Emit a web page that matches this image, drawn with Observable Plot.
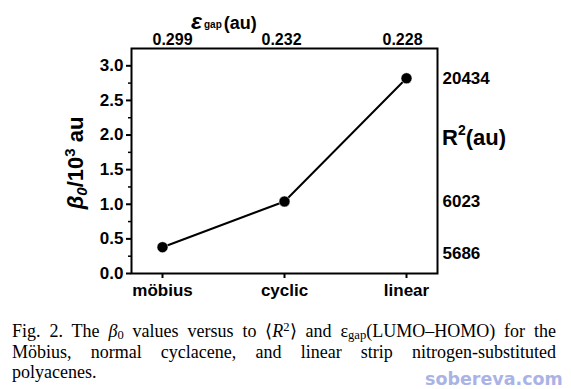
<!DOCTYPE html>
<html><head><meta charset="utf-8">
<script src="https://cdn.jsdelivr.net/npm/d3@7"></script>
<script src="https://cdn.jsdelivr.net/npm/@observablehq/plot@0.6"></script>
<style>
body{margin:0;background:#fff;}
#wrap{position:relative;width:571px;height:389px;overflow:hidden;background:#fff;}
#chart{position:absolute;left:0;top:0;}
#caption{position:absolute;left:12px;top:321px;width:544px;font-family:"Liberation Serif","Times New Roman",serif;font-size:18px;line-height:20.5px;color:#000;}
#caption div{white-space:nowrap;}
#caption .jl{text-align:justify;text-align-last:justify;white-space:normal;}
#caption sub,#caption sup{line-height:0;font-size:0.7em;}
#caption sub{vertical-align:-0.15em;}
#caption sup{vertical-align:0.45em;}
#wm{position:absolute;left:425px;top:369px;font-family:"DejaVu Sans",sans-serif;font-weight:bold;font-size:17.5px;color:#aab3e6;}
</style></head>
<body><div id="wrap"><div id="chart"></div>
<div id="caption">
<div class="jl">Fig. 2. The <i>β</i><sub>0</sub> values versus to ⟨<i>R</i><sup>2</sup>⟩ and ε<sub>gap</sub>(LUMO–HOMO) for the</div>
<div class="jl">Möbius, normal cyclacene, and linear strip nitrogen-substituted</div>
<div>polyacenes.</div>
</div>
<div id="wm">sobereva.com</div>
</div>
<script>
const categories = ["möbius", "cyclic", "linear"];
const beta = [0.38, 1.04, 2.82];
const gapLabels = ["0.299", "0.232", "0.228"];
const r2Labels = ["5686", "6023", "20434"];
const yTicks = [0, 0.5, 1, 1.5, 2, 2.5, 3];
const yMinorTicks = [0.25, 0.75, 1.25, 1.75, 2.25, 2.75];

const data = categories.map((c, i) => ({cat: c, beta: beta[i], gap: gapLabels[i], r2: r2Labels[i]}));
const F = "'Liberation Sans', Arial, sans-serif";

const gapText = (rows, dx) => Plot.text(rows, {x: "cat", text: "gap", frameAnchor: "top", lineAnchor: "bottom", dy: -4, dx, fontSize: 16, fontWeight: "bold"});

const svg = Plot.plot({
  width: 571, height: 310,
  marginLeft: 131, marginRight: 134, marginTop: 48, marginBottom: 37,
  style: {fontFamily: F, fontWeight: "bold", background: "white", color: "black", overflow: "visible"},
  x: {type: "point", domain: categories, padding: 0.25},
  y: {domain: [0, 3.25]},
  marks: [
    Plot.axisY({ticks: yTicks, tickSize: 5, tickPadding: 3, tickFormat: d3.format(".1f"), fontSize: 17, fontWeight: "bold", label: null, strokeWidth: 2}),
    Plot.axisY({ticks: yMinorTicks, tickSize: 3, tickFormat: () => "", label: null, strokeWidth: 1.5}),
    Plot.axisX({tickSize: 5, tickPadding: 5, fontSize: 17, fontWeight: "bold", label: null, strokeWidth: 2}),
    Plot.frame({strokeWidth: 2}),
    Plot.line(data, {x: "cat", y: "beta", stroke: "black", strokeWidth: 2}),
    Plot.dot(data, {x: "cat", y: "beta", r: 5.5, fill: "black", stroke: "white", strokeWidth: 0.5}),
    gapText(data.slice(0, 1), 10),
    gapText(data.slice(1, 2), -3),
    gapText(data.slice(2, 3), -4),
    Plot.text(data.slice(1), {y: "beta", text: "r2", frameAnchor: "right", textAnchor: "start", dx: 5, fontSize: 17, fontWeight: "bold"}),
    Plot.text(data.slice(0, 1), {y: "beta", text: "r2", frameAnchor: "right", textAnchor: "start", dx: 5, dy: 6, fontSize: 17, fontWeight: "bold"})
  ]
});

const s = d3.select(svg);
// left title
const yt = s.append("text")
  .attr("transform", "translate(83,163) rotate(-90)")
  .attr("text-anchor", "middle")
  .attr("font-family", F).attr("font-weight", "bold").attr("font-size", 22).attr("fill", "black");
yt.append("tspan").attr("font-style", "italic").text("β");
yt.append("tspan").attr("font-style", "italic").attr("font-size", 15).attr("dy", 4).text("0");
yt.append("tspan").attr("dy", -4).text("/10");
yt.append("tspan").attr("font-size", 15).attr("dy", -8).text("3");
yt.append("tspan").attr("dy", 8).text(" au");

// right title
const rt = s.append("text")
  .attr("x", 442).attr("y", 145)
  .attr("text-anchor", "start")
  .attr("font-family", F).attr("font-weight", "bold").attr("font-size", 22).attr("fill", "black");
rt.append("tspan").text("R");
rt.append("tspan").attr("font-size", 14).attr("dy", -10).text("2");
rt.append("tspan").attr("dy", 10).text("(au)");

// top title
const tt = s.append("text")
  .attr("x", 191).attr("y", 29)
  .attr("text-anchor", "start")
  .attr("font-family", F).attr("font-weight", "bold").attr("fill", "black");
tt.append("tspan").attr("font-size", 23).attr("font-style", "italic").text("ε");
tt.append("tspan").attr("font-size", 10).attr("dx", 2).attr("dy", -1).text("gap");
tt.append("tspan").attr("font-size", 18).attr("dx", 2).attr("dy", 1).text("(au)");

document.getElementById("chart").appendChild(svg);
</script>
</body></html>
